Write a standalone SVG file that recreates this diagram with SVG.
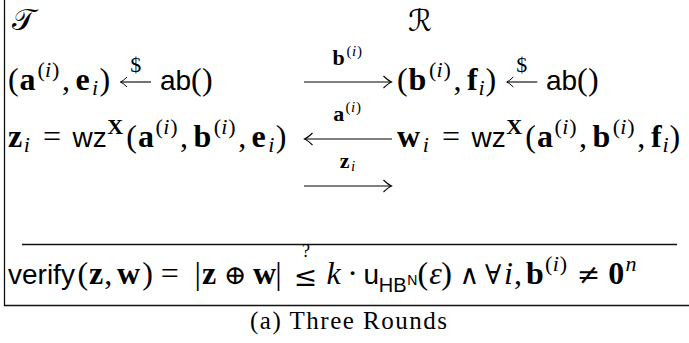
<svg xmlns="http://www.w3.org/2000/svg" width="689" height="343" viewBox="0 0 689 343">
<style>
text{fill:#000}
.m{font-family:"Liberation Serif","DejaVu Serif",serif;font-size:32px}
.b{font-weight:bold}
.it{font-style:italic}
.s{font-size:22px}
.ss{font-size:15px}
.sf{font-family:"Liberation Sans","DejaVu Sans",sans-serif;font-size:28px}
.op{text-anchor:middle}
.sym{font-size:27px}
.rel{font-family:"DejaVu Serif",serif;font-size:28px}
.cal{font-family:"DejaVu Serif","DejaVu Sans","Noto Sans",serif;font-size:30px}
.ln{stroke:#111;stroke-width:1.3;fill:none}
.ar{stroke:#000;stroke-width:1.1;fill:none}
</style>
<defs>
<marker id="head" markerUnits="userSpaceOnUse" markerWidth="14" markerHeight="16" viewBox="-10 -8 12 16" refX="0" refY="0" orient="auto">
<path d="M-8,-6 Q-3,-1.2 0,0 Q-3,1.2 -8,6" stroke="#000" stroke-width="1.1" fill="none"/>
</marker>
<marker id="hs" markerUnits="userSpaceOnUse" markerWidth="12" markerHeight="14" viewBox="-9 -7 11 14" refX="0" refY="0" orient="auto">
<path d="M-6.5,-5 Q-2.5,-1 0,0 Q-2.5,1 -6.5,5" stroke="#000" stroke-width="1" fill="none"/>
</marker>
</defs>

<g id="frame">
<path class="ln" d="M4.5,0 V305.5 H689"/>
<path class="ln" d="M22,244.5 H677"/>
</g>

<g id="party-T"><text class="cal" x="12" y="30">𝒯</text></g>
<g id="party-R"><text class="cal" x="408" y="31">ℛ</text></g>

<g id="row1-left">
<text class="m">
<tspan x="8" y="90">(</tspan><tspan class="b" x="19.5" y="90">a</tspan><tspan class="s" x="37.4" y="77">(</tspan><tspan class="s it" x="45" y="77">i</tspan><tspan class="s" x="52" y="77">)</tspan><tspan x="62" y="90">,</tspan><tspan class="b" x="75.5" y="90">e</tspan><tspan class="s it" x="92" y="95">i</tspan><tspan x="99.5" y="90">)</tspan>
</text>
<path class="ar" d="M151,82 H120.5" marker-end="url(#hs)"/>
<text class="m s op" x="135.7" y="72">$</text>
<text class="sf" x="160" y="90">ab</text>
<text class="m"><tspan x="191" y="90">(</tspan><tspan x="202" y="90">)</tspan></text>
</g>

<g id="row1-right">
<text class="m">
<tspan x="397" y="90">(</tspan><tspan class="b" x="408.5" y="90">b</tspan><tspan class="s" x="429" y="77">(</tspan><tspan class="s it" x="436.6" y="77">i</tspan><tspan class="s" x="443.6" y="77">)</tspan><tspan x="453.4" y="90">,</tspan><tspan class="b" x="467" y="90">f</tspan><tspan class="s it" x="478.6" y="95">i</tspan><tspan x="485.6" y="90">)</tspan>
</text>
<path class="ar" d="M537.3,82 H506.8" marker-end="url(#hs)"/>
<text class="m s op" x="521.8" y="72">$</text>
<text class="sf" x="546" y="90">ab</text>
<text class="m"><tspan x="577" y="90">(</tspan><tspan x="588" y="90">)</tspan></text>
</g>

<g id="row2-left">
<text class="m">
<tspan class="b" x="8" y="147">z</tspan><tspan class="s it" x="23.8" y="152">i</tspan><tspan class="op" x="52" y="147">=</tspan>
</text>
<text class="sf" x="72.6" y="147">wz</text>
<text class="m">
<tspan class="s b" x="107.3" y="134">X</tspan><tspan x="126.2" y="147">(</tspan><tspan class="b" x="138" y="147">a</tspan><tspan class="s" x="155.6" y="134">(</tspan><tspan class="s it" x="163.2" y="134">i</tspan><tspan class="s" x="170.2" y="134">)</tspan><tspan x="180.1" y="147">,</tspan><tspan class="b" x="193.5" y="147">b</tspan><tspan class="s" x="213.7" y="134">(</tspan><tspan class="s it" x="221.3" y="134">i</tspan><tspan class="s" x="228.3" y="134">)</tspan><tspan x="238.2" y="147">,</tspan><tspan class="b" x="251.5" y="147">e</tspan><tspan class="s it" x="268.3" y="152">i</tspan><tspan x="275.8" y="147">)</tspan>
</text>
</g>

<g id="row2-right">
<text class="m">
<tspan class="b" x="397" y="147">w</tspan><tspan class="s it" x="422.8" y="152">i</tspan><tspan class="op" x="451" y="147">=</tspan>
</text>
<text class="sf" x="471.6" y="147">wz</text>
<text class="m">
<tspan class="s b" x="506.3" y="134">X</tspan><tspan x="525.2" y="147">(</tspan><tspan class="b" x="537" y="147">a</tspan><tspan class="s" x="554.6" y="134">(</tspan><tspan class="s it" x="562.2" y="134">i</tspan><tspan class="s" x="569.2" y="134">)</tspan><tspan x="579.1" y="147">,</tspan><tspan class="b" x="592.5" y="147">b</tspan><tspan class="s" x="612.7" y="134">(</tspan><tspan class="s it" x="620.3" y="134">i</tspan><tspan class="s" x="627.3" y="134">)</tspan><tspan x="637.2" y="147">,</tspan><tspan class="b" x="651" y="147">f</tspan><tspan class="s it" x="662.4" y="152">i</tspan><tspan x="669.4" y="147">)</tspan>
</text>
</g>

<g id="connectors">
<path class="ar" d="M304,82 H391.5" marker-end="url(#head)"/>
<text class="m"><tspan class="s b" x="332.4" y="65">b</tspan><tspan class="ss" x="346.5" y="56">(</tspan><tspan class="ss it" x="352" y="56">i</tspan><tspan class="ss" x="357" y="56">)</tspan></text>
<path class="ar" d="M392,139 H304.5" marker-end="url(#head)"/>
<text class="m"><tspan class="s b" x="333.3" y="121">a</tspan><tspan class="ss" x="345.6" y="112">(</tspan><tspan class="ss it" x="351.1" y="112">i</tspan><tspan class="ss" x="356.1" y="112">)</tspan></text>
<path class="ar" d="M304,186 H391.5" marker-end="url(#head)"/>
<text class="m"><tspan class="s b" x="339.8" y="168">z</tspan><tspan class="ss it" x="350.9" y="171">i</tspan></text>
</g>

<g id="verify">
<text class="sf" x="8" y="284">verify</text>
<text class="m">
<tspan x="77.5" y="284">(</tspan><tspan class="b" x="89.1" y="284">z</tspan><tspan x="104.3" y="284">,</tspan><tspan class="b" x="117" y="284">w</tspan><tspan x="142.3" y="284">)</tspan>
<tspan class="op" x="173.8" y="284">=</tspan>
<tspan class="op" x="197.8" y="284">|</tspan><tspan class="b" x="201.9" y="284">z</tspan><tspan class="op sym" x="235.4" y="284">⊕</tspan><tspan class="b" x="253" y="284">w</tspan><tspan class="op" x="282.4" y="284">|</tspan>
<tspan class="it" x="326.4" y="284">k</tspan><tspan class="op" x="352.7" y="284">·</tspan>
</text>
<text class="rel op" x="305.5" y="286">≤</text>
<text class="m op" style="font-size:18px" x="306" y="257">?</text>
<text class="sf"><tspan x="363.4" y="284">u</tspan><tspan style="font-size:20px" x="378.8" y="292">HB</tspan><tspan style="font-size:14px" x="407.2" y="285">N</tspan></text>
<text class="m">
<tspan x="417.6" y="284">(</tspan><tspan class="it" x="429.2" y="284">ε</tspan><tspan x="441.3" y="284">)</tspan>
<tspan class="op sym" x="469.4" y="284">∧</tspan><tspan class="sym" x="485" y="284">∀</tspan>
</text>
<text class="m">
<tspan class="it" x="504" y="284">i</tspan><tspan x="514" y="284">,</tspan>
<tspan class="b" x="526.1" y="284">b</tspan><tspan class="s" x="545.1" y="271">(</tspan><tspan class="s it" x="552.7" y="271">i</tspan><tspan class="s" x="559.7" y="271">)</tspan>
<tspan class="b" x="608.3" y="284">0</tspan><tspan class="s it" x="625.4" y="271">n</tspan>
</text>
<text class="rel op" x="588.4" y="284">≠</text>
</g>

<g id="caption">
<text x="250" y="329" style="font-family:'Liberation Serif',serif;font-size:25px" textLength="197" lengthAdjust="spacing">(a) Three Rounds</text>
</g>
</svg>
